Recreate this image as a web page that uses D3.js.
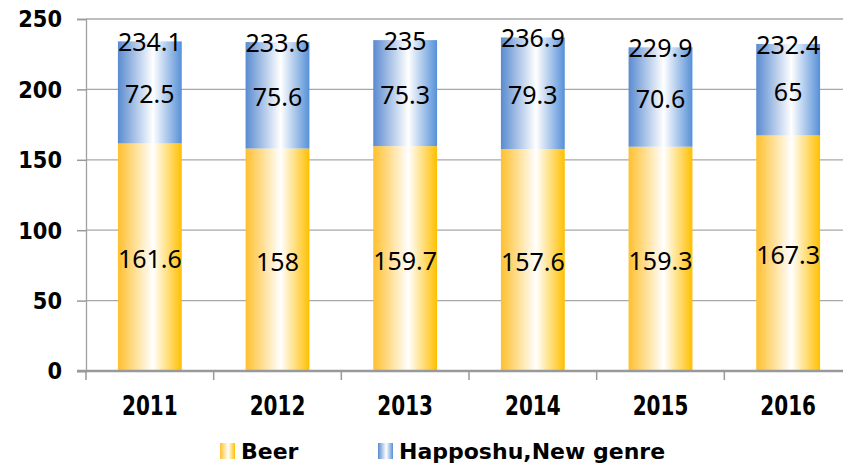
<!DOCTYPE html>
<html>
<head>
<meta charset="utf-8">
<script src="https://cdn.jsdelivr.net/npm/d3@7"></script>
<style>
  body { margin: 0; background: #fff; }
  svg { display: block; }
</style>
</head>
<body>
<svg id="chart" width="843" height="465"></svg>
<script>
// chart data
const years = ["2011", "2012", "2013", "2014", "2015", "2016"];
const beer = [161.6, 158, 159.7, 157.6, 159.3, 167.3];
const happoshu = [72.5, 75.6, 75.3, 79.3, 70.6, 65];
const totals = [234.1, 233.6, 235, 236.9, 229.9, 232.4];
const yTicks = [0, 50, 100, 150, 200, 250];
const seriesNames = ["Beer", "Happoshu,New genre"];

const svg = d3.select("#chart");
const margin = { top: 19, left: 86 };
const plotW = 766;
const plotH = 352;

// gradients for the bars
const defs = svg.append("defs");
const makeGrad = (id, edgeL, edgeR) => {
  const g = defs.append("linearGradient").attr("id", id)
    .attr("x1", 0).attr("x2", 1).attr("y1", 0).attr("y2", 0);
  g.append("stop").attr("offset", 0).attr("stop-color", edgeL);
  g.append("stop").attr("offset", 0.55).attr("stop-color", "#ffffff");
  g.append("stop").attr("offset", 1).attr("stop-color", edgeR);
};
makeGrad("gBeer", "#ffc02e", "#ffbf00");
makeGrad("gHap", "#5a8bd0", "#5690d8");
const fills = ["url(#gBeer)", "url(#gHap)"];

const x = d3.scaleBand().domain(years).range([0, plotW]).paddingInner(0.5).paddingOuter(0.25);
const y = d3.scaleLinear().domain([0, 250]).range([plotH, 0]);

const g = svg.append("g").attr("transform", `translate(${margin.left},${margin.top})`);

// gridlines
g.selectAll(".grid")
  .data(yTicks.slice(1))
  .enter()
  .append("line")
  .attr("x1", 0)
  .attr("x2", plotW)
  .attr("y1", (d) => y(d))
  .attr("y2", (d) => y(d))
  .attr("stroke", "#a8a8a8")
  .attr("stroke-width", 1.3);

// y axis
const yAxis = d3.axisLeft(y).tickValues(yTicks).tickSize(9).tickPadding(15);
g.append("g")
  .call(yAxis)
  .call((a) => a.select(".domain").attr("stroke", "#a0a0a0").attr("stroke-width", 1.3))
  .call((a) => a.selectAll(".tick line").attr("stroke", "#999").attr("stroke-width", 1.5))
  .call((a) =>
    a.selectAll(".tick text")
      .attr("font-family", "DejaVu Sans")
      .attr("font-weight", "bold")
      .attr("font-size", 21)
      .attr("fill", "#000")
      .attr("dy", null)
      .attr("dominant-baseline", "central")
      .attr("transform", function () {
        const tx = +d3.select(this).attr("x");
        return `translate(${tx},0) scale(1,1.1) translate(${-tx},0)`;
      })
  );

// stacked bars
const table = years.map((yr, i) => ({ year: yr, beer: beer[i], hap: happoshu[i] }));
const stacked = d3.stack().keys(["beer", "hap"])(table);

stacked.forEach((layer, li) => {
  g.selectAll(".bar" + li)
    .data(layer)
    .enter()
    .append("rect")
    .attr("x", (d) => x(d.data.year))
    .attr("y", (d) => y(d[1]))
    .attr("width", x.bandwidth())
    .attr("height", (d) => y(d[0]) - y(d[1]))
    .attr("fill", fills[li]);

  g.selectAll(".lab" + li)
    .data(layer)
    .enter()
    .append("text")
    .attr("x", (d) => x(d.data.year) + x.bandwidth() / 2)
    .attr("y", (d) => y((d[0] + d[1]) / 2) + 1)
    .attr("text-anchor", "middle")
    .attr("dominant-baseline", "central")
    .attr("font-family", "Noto Sans")
    .attr("font-size", 25)
    .attr("fill", "#000")
    .text((d) => (li === 0 ? d.data.beer : d.data.hap));
});

// total labels
g.selectAll(".total")
  .data(years)
  .enter()
  .append("text")
  .attr("x", (d) => x(d) + x.bandwidth() / 2)
  .attr("y", (d, i) => y(totals[i]))
  .attr("text-anchor", "middle")
  .attr("dominant-baseline", "central")
  .attr("font-family", "Noto Sans")
  .attr("font-size", 25)
  .attr("fill", "#000")
  .text((d, i) => totals[i]);

// x axis
const xTickScale = d3.scaleLinear().domain([0, years.length]).range([0, plotW]);
g.append("line")
  .attr("x1", -9)
  .attr("x2", plotW)
  .attr("y1", plotH)
  .attr("y2", plotH)
  .attr("stroke", "#999")
  .attr("stroke-width", 2.5);

g.selectAll(".xtick")
  .data(d3.range(years.length + 1))
  .enter()
  .append("line")
  .attr("x1", (d) => xTickScale(d))
  .attr("x2", (d) => xTickScale(d))
  .attr("y1", plotH)
  .attr("y2", plotH + 9)
  .attr("stroke", "#999")
  .attr("stroke-width", 1.5);

g.selectAll(".xlab")
  .data(years)
  .enter()
  .append("text")
  .attr("text-anchor", "middle")
  .attr("dominant-baseline", "central")
  .attr("font-family", "DejaVu Sans")
  .attr("font-weight", "bold")
  .attr("font-size", 20)
  .attr("fill", "#000")
  .attr("transform", (d) => `translate(${x(d) + x.bandwidth() / 2},${plotH + 34}) scale(1,1.3)`)
  .text((d) => d);

// legend
const legendX = [220, 378];
const legend = svg.append("g");
seriesNames.forEach((name, i) => {
  legend.append("rect")
    .attr("x", legendX[i])
    .attr("y", 443)
    .attr("width", 15)
    .attr("height", 16)
    .attr("fill", fills[i]);
  legend.append("text")
    .attr("x", legendX[i] + 21)
    .attr("y", 451)
    .attr("dominant-baseline", "central")
    .attr("font-family", "DejaVu Sans")
    .attr("font-weight", "bold")
    .attr("font-size", 22)
    .attr("fill", "#000")
    .text(name);
});
</script>
</body>
</html>
